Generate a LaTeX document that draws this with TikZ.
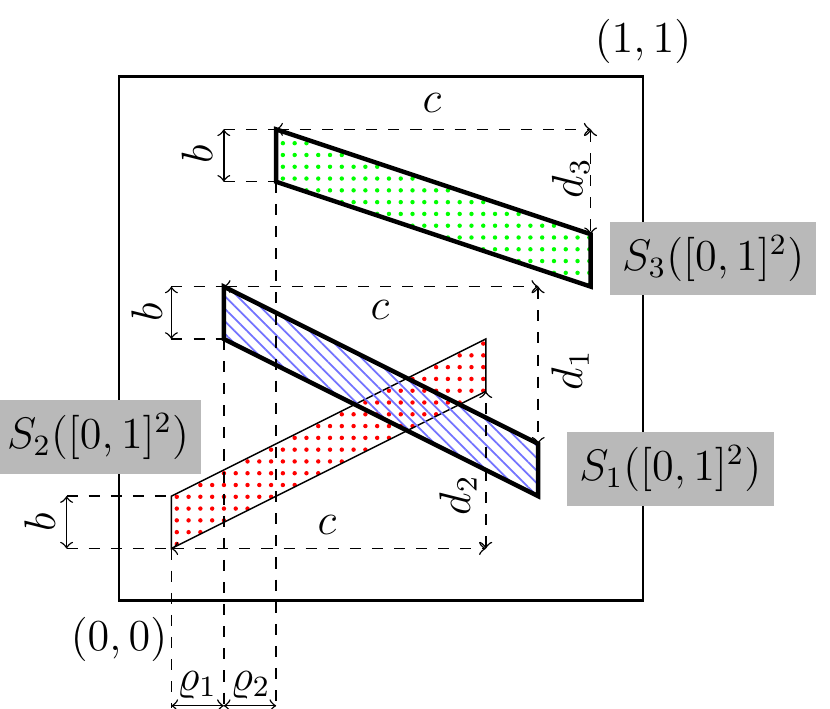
\documentclass[tikz,border=0pt]{standalone}
\usetikzlibrary{patterns.meta}
\tikzset{
	dim/.style={dashed,<->},
	guide/.style={dashed},
	lab/.style={font=\large},
	rlab/.style={font=\large,rotate=90},
	bigdots/.style={pattern={Dots[distance=3.2pt,radius=0.6pt]},pattern color=#1},
	hatch/.style={pattern={Lines[angle=-45,distance=2.4pt,line width=0.5pt]},pattern color=#1},
	imgbox/.style={fill=gray!55,font=\large,minimum width=1.84cm,minimum height=0.7cm}
}
\begin{document}
\begin{tikzpicture}[x=5cm,y=5cm]
	\useasboundingbox (-0.2271,-0.2061) rectangle (1.3569,1.1469);
	\draw [thick] (0,0) rectangle (1,1);
	\node [lab] (one) at (1.0,1.067) {$(1,1)$};
	\node [lab] (zero) at (0,-0.074) {$(0,0)$};
	% the three images
	\draw [bigdots=red] (0.1,0.1) -- (0.1,0.2) -- (0.7,0.5) -- (0.7,0.4) -- cycle;
	\draw [very thick,hatch=blue!55] (0.2,0.6) -- (0.2,0.5) -- (0.8,0.2) -- (0.8,0.3) -- cycle;
	\draw [very thick,bigdots=green] (0.3,0.9) -- (0.3,0.8) -- (0.9,0.6) -- (0.9,0.7) -- cycle;
	% green
	\coordinate (g1) at (0.3,0.9);
	\coordinate (g2) at (0.9,0.9);
	\coordinate (g3) at (0.9,0.7);
	\draw [guide] (0.2,0.9) -- (g1);
	\draw [guide] (0.2,0.8) -- (0.3,0.8);
	\draw [<->] (0.2,0.9) -- (0.2,0.8);
	\draw [dim] (g1) -- (g2);
	\draw [dim] (g2) -- (g3);
	\node [rlab] (gb) at (0.149,0.853) {$b$};
	\node [lab] (gc) at (0.597,0.95) {$c$};
	\node [rlab] (gd) at (0.862,0.807) {$d_3$};
	% blue
	\coordinate (b1) at (0.2,0.6);
	\coordinate (b2) at (0.8,0.6);
	\coordinate (b3) at (0.8,0.3);
	\draw [guide] (0.1,0.6) -- (b1);
	\draw [guide] (0.1,0.5) -- (0.2,0.5);
	\draw [<->] (0.1,0.6) -- (0.1,0.5);
	\draw [dim] (b1) -- (b2);
	\draw [dim] (b2) -- (b3);
	\node [rlab] (bb) at (0.053,0.55) {$b$};
	\node [lab] (bc) at (0.498,0.555) {$c$};
	\node [rlab] (bd) at (0.861,0.44) {$d_1$};
	% red
	\coordinate (r1) at (0.1,0.1);
	\coordinate (r2) at (0.7,0.1);
	\coordinate (r3) at (0.7,0.4);
	\draw [guide] (-0.1,0.2) -- (0.1,0.2);
	\draw [guide] (-0.1,0.1) -- (r1);
	\draw [<->] (-0.1,0.2) -- (-0.1,0.1);
	\draw [dim] (r1) -- (r2);
	\draw [dim] (r2) -- (r3);
	\node [rlab] (rb) at (-0.151,0.151) {$b$};
	\node [lab] (rc) at (0.397,0.145) {$c$};
	\node [rlab] (rd) at (0.647,0.202) {$d_2$};
	% offsets
	\draw [guide] (0.1,0.1) -- (0.1,-0.204);
	\draw [guide] (0.2,0.5) -- (0.2,-0.204);
	\draw [guide] (0.3,0.8) -- (0.3,-0.204);
	\draw [<->] (0.1,-0.2) -- (0.2,-0.2);
	\draw [<->] (0.2,-0.2) -- (0.3,-0.2);
	\node [lab] (rho1) at (0.149,-0.16) {$\varrho_1$};
	\node [lab] (rho2) at (0.251,-0.16) {$\varrho_2$};
	% labels
	\node [imgbox] (s3) at (1.134,0.653) {$S_3([0,1]^2)$};
	\node [imgbox] (s1) at (1.052,0.252) {$S_1([0,1]^2)$};
	\node [imgbox] (s2) at (-0.040,0.313) {$S_2([0,1]^2)$};
\end{tikzpicture}
\end{document}
